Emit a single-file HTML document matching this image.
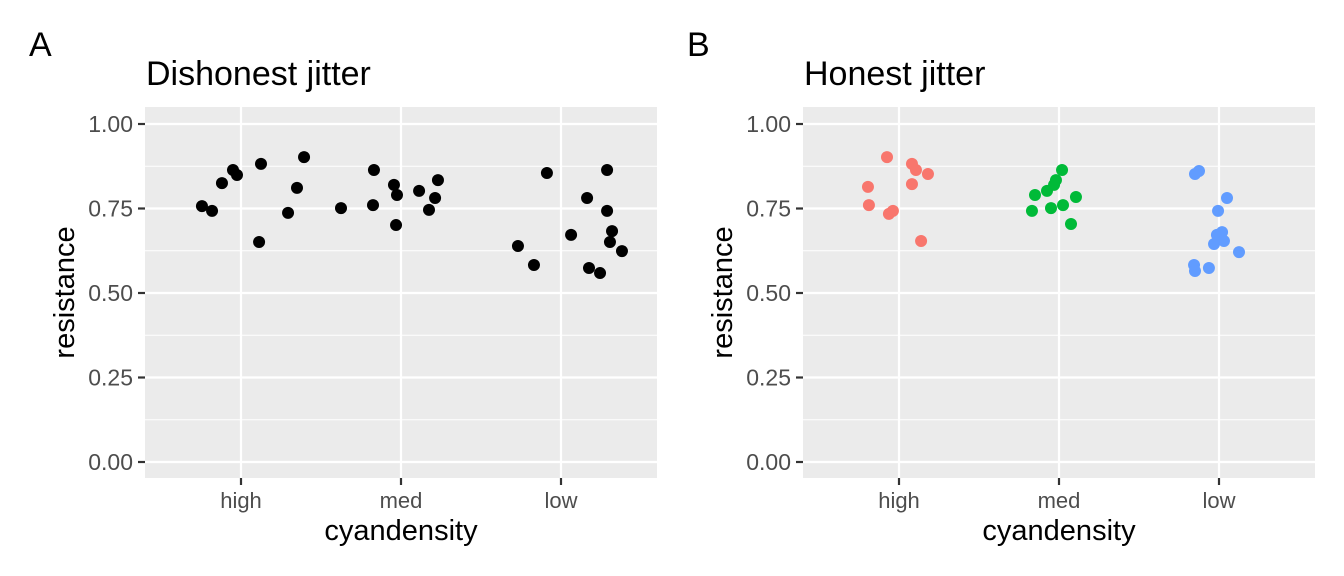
<!DOCTYPE html>
<html><head><meta charset="utf-8"><style>
body{margin:0;background:#fff;}
svg{display:block;font-family:"Liberation Sans",Arial,sans-serif;}
</style></head><body>
<svg id="chart" width="1344" height="576" viewBox="0 0 1344 576" xmlns="http://www.w3.org/2000/svg"></svg>
<script>
const categories = ["high","med","low"];
const yTicks = [0, 0.25, 0.5, 0.75, 1.0];
const yTickLabels = ["0.00","0.25","0.50","0.75","1.00"];
const colors = ["#F8766D","#00BA38","#619CFF"];
// Panel A (dishonest)
const aCat = [0,0,0,0,0,0,0,0,0,0, 1,1,1,1,1,1,1,1,1,1, 2,2,2,2,2,2,2,2,2,2,2,2];
const aJit = [-0.244,-0.181,-0.119,-0.05,-0.025,0.113,0.125,0.294,0.35,0.394,
  -0.375,-0.175,-0.169,-0.044,-0.031,-0.025,0.113,0.175,0.213,0.231,
  -0.269,-0.169,-0.088,0.063,0.163,0.175,0.244,0.288,0.288,0.306,0.319,0.381];
const aVal = [0.757,0.743,0.825,0.864,0.849,0.651,0.882,0.737,0.811,0.902,
  0.751,0.760,0.864,0.820,0.701,0.790,0.802,0.746,0.781,0.834,
  0.639,0.583,0.855,0.672,0.781,0.574,0.559,0.864,0.743,0.651,0.683,0.624];
// Panel B (honest)
const bCat = [0,0,0,0,0,0,0,0,0,0, 1,1,1,1,1,1,1,1,1,1, 2,2,2,2,2,2,2,2,2,2,2,2];
const bJit = [-0.194,-0.188,-0.075,-0.063,-0.038,0.081,0.081,0.106,0.138,0.181,
  -0.169,-0.15,-0.075,-0.05,-0.031,-0.019,0.019,0.025,0.075,0.106,
  -0.156,-0.15,-0.15,-0.125,-0.063,-0.031,-0.013,-0.006,0.019,0.031,0.05,0.125];
const bVal = [0.814,0.760,0.902,0.734,0.743,0.882,0.822,0.864,0.654,0.852,
  0.743,0.790,0.802,0.751,0.820,0.834,0.864,0.760,0.704,0.784,
  0.583,0.565,0.852,0.861,0.574,0.645,0.672,0.743,0.680,0.654,0.781,0.621];

const NS="http://www.w3.org/2000/svg";
const svg=document.getElementById('chart');
function mk(tag,attrs,parent,text){const e=document.createElementNS(NS,tag);for(const k in attrs)e.setAttribute(k,attrs[k]);if(text!==undefined)e.textContent=text;(parent||svg).appendChild(e);return e;}

function panel(ox,letter,title,cat,jit,val,colored,key){
  const x0=ox+145,x1=ox+657,yTop=107,yBot=478;
  const y=v=>462-v*338;
  const x=c=>x0+96+c*160;
  const g=mk('g',{});
  
  
  const bg=mk('rect',{x:x0,y:yTop,width:x1-x0,height:yBot-yTop,fill:'#EBEBEB'},g);
  
  
  for(let i=0;i<yTicks.length-1;i++){
    const m=(yTicks[i]+yTicks[i+1])/2;
    const l=mk('line',{x1:x0,x2:x1,y1:y(m),y2:y(m),stroke:'#fff','stroke-width':1},g);
    
    
  }
  yTicks.forEach((t,i)=>{
    const l=mk('line',{x1:x0,x2:x1,y1:y(t),y2:y(t),stroke:'#fff','stroke-width':2.2},g);
    
    
    const tk=mk('line',{x1:x0-7,x2:x0,y1:y(t),y2:y(t),stroke:'#333','stroke-width':2.2},g);
    
    
    const tl=mk('text',{x:x0-12,y:y(t)+8,'text-anchor':'end','font-size':23,fill:'#4D4D4D'},g,yTickLabels[i]);
    
    
  });
  categories.forEach((c,i)=>{
    const l=mk('line',{x1:x(i),x2:x(i),y1:yTop,y2:yBot,stroke:'#fff','stroke-width':2.2},g);
    
    
    const tk=mk('line',{x1:x(i),x2:x(i),y1:yBot,y2:yBot+7,stroke:'#333','stroke-width':2.2},g);
    
    
    const tl=mk('text',{x:x(i),y:yBot+30,'text-anchor':'middle','font-size':22,fill:'#4D4D4D'},g,c);
    
    
  });
  cat.forEach((c,i)=>{
    const p=mk('circle',{cx:x(c+jit[i]),cy:y(val[i]),r:6,fill:colored?colors[c]:'#000'},g);
    
    
  });
  const L=mk('text',{x:ox+29,y:56,'font-size':34,fill:'#000'},g,letter);
  
  
  const T=mk('text',{x:x0+1,y:85,'font-size':34,fill:'#000'},g,title);
  
  
  const xt=mk('text',{x:(x0+x1)/2,y:540,'text-anchor':'middle','font-size':29,fill:'#000'},g,'cyandensity');
  
  
  const yt=mk('text',{x:0,y:0,'text-anchor':'middle','font-size':29,fill:'#000',transform:`translate(${ox+74},${(yTop+yBot)/2}) rotate(-90)`},g,'resistance');
  
  
}
panel(0,'A','Dishonest jitter',aCat,aJit,aVal,false,'dishonest');
panel(658,'B','Honest jitter',bCat,bJit,bVal,true,'honest');
</script>
</body></html>
